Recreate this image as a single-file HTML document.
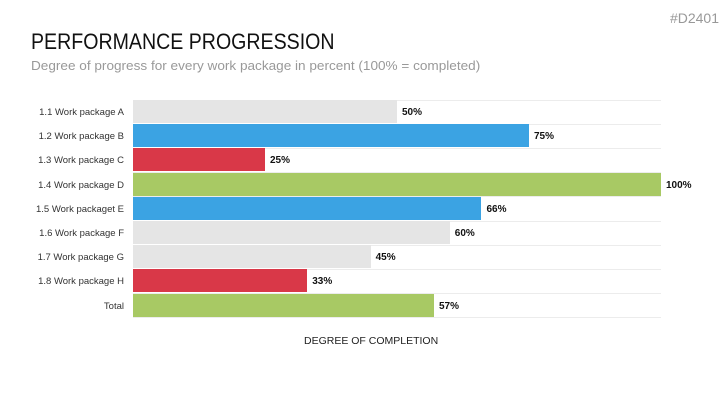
<!DOCTYPE html>
<html><head><style>
body{margin:0;width:727px;height:409px;background:#fff;position:relative;overflow:hidden;font-family:"Liberation Sans",sans-serif}
.t{position:absolute;white-space:nowrap;transform-origin:0 0}
.lbl{position:absolute;right:603px;font-size:9.5px;color:#333;text-align:right}
.bar{position:absolute;left:133px;height:23px}
.val{position:absolute;font-size:10px;font-weight:bold;color:#111}
.grid{position:absolute;left:133px;width:528px;height:1px;background:#ececec}
</style></head><body>
<div class="t" style="right:8px;top:10px;font-size:14px;color:#999">#D2401</div>
<div class="t" style="left:31px;top:29px;font-size:22px;color:#111;transform:scaleX(0.89)">PERFORMANCE PROGRESSION</div>
<div class="t" style="left:31px;top:58px;font-size:13px;color:#999;transform:scaleX(1.044)">Degree of progress for every work package in percent (100% = completed)</div>
<div id="c"></div>
<div class="t" style="left:304px;top:335px;font-size:10.5px;color:#222">DEGREE OF COMPLETION</div>
<script>
var d=[["1.1 Work package A",50,"#e5e5e5"],["1.2 Work package B",75,"#3ba3e3"],["1.3 Work package C",25,"#d93848"],["1.4 Work package D",100,"#a8c964"],["1.5 Work packaget E",66,"#3ba3e3"],["1.6 Work package F",60,"#e5e5e5"],["1.7 Work package G",45,"#e5e5e5"],["1.8 Work package H",33,"#d93848"],["Total",57,"#a8c964"]];
var h="";
for(var i=0;i<d.length;i++){var y=100+i*24.2,w=d[i][1]*5.28;
h+='<div class="grid" style="top:'+(y-0.5)+'px"></div>';
h+='<div class="bar" style="top:'+y+'px;width:'+w+'px;background:'+d[i][2]+'"></div>';
h+='<div class="lbl" style="top:'+(y+7)+'px">'+d[i][0]+'</div>';
h+='<div class="val" style="left:'+(133+w+5)+'px;top:'+(y+7)+'px">'+d[i][1]+'%</div>';}
h+='<div class="grid" style="top:'+(100+9*24.2-0.5)+'px"></div>';
document.getElementById("c").innerHTML=h;
</script>
</body></html>
